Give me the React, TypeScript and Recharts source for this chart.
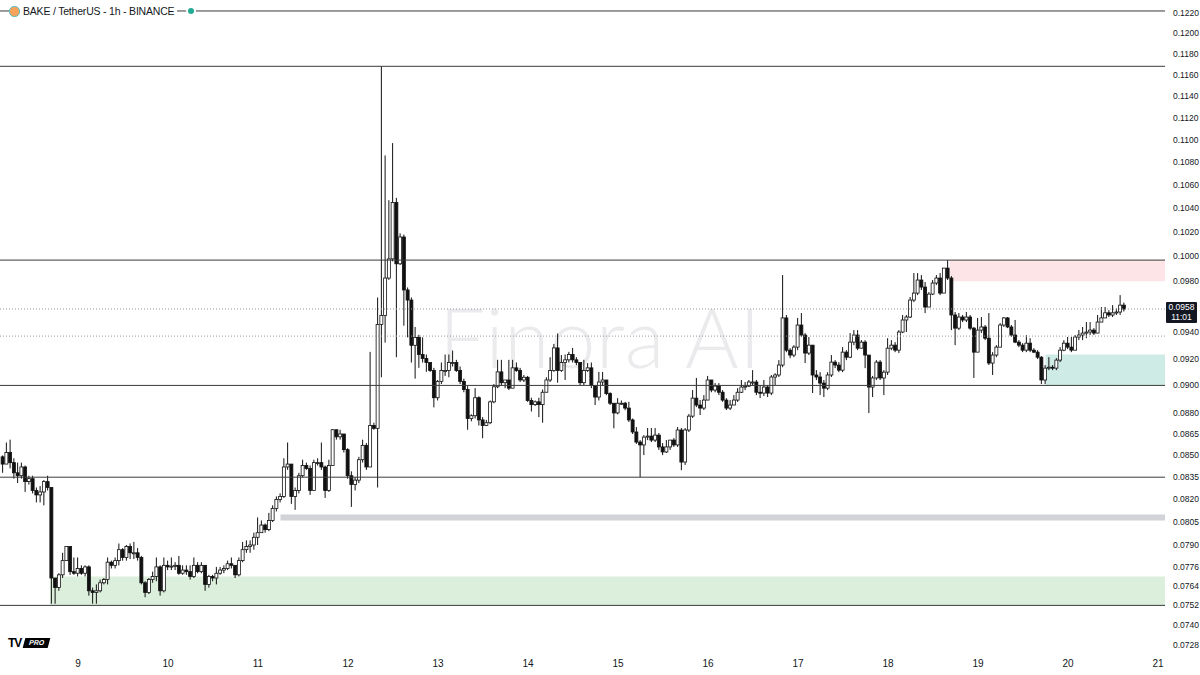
import React from "react";
import { ComposedChart, Bar, XAxis, YAxis, ReferenceLine, ReferenceArea } from "recharts";

// hourly candles, prices in 1e-4 units (e.g. 958 = 0.0958); first candle is day 8, 04:00
const firstHour = -20;
const firstOpen = 849;

const closes = [
  844, 852, 845, 838, 836, 842, 832, 834, 826, 823, 825, 832, 828, 769, 763, 771, 780, 789, 773, 772,
  775, 772, 776, 761, 760, 761, 766, 768, 779, 777, 780, 787, 782, 789, 785, 785, 782, 766, 760, 768,
  770, 776, 761, 777, 776, 776.5, 777, 772, 774, 773, 770, 777, 773, 777, 765, 770, 769, 772, 774, 775,
  778, 777, 771, 780, 787, 789, 790, 795, 798, 803, 800, 806, 814, 820, 822, 842, 844, 822, 826, 836,
  843, 841, 826, 845, 845, 842, 826, 843, 868, 863, 865, 854, 836, 830, 833, 847, 857, 842, 871, 869,
  946, 953, 982.5, 998, 1045, 994, 1016, 973, 965, 930, 936, 923, 920, 917, 911, 891, 903, 911, 911, 917,
  917, 911, 903, 897, 876, 878, 891, 875, 871, 873, 888, 899, 910, 902, 904, 898, 913, 911, 904, 906,
  889, 886, 888, 886, 895, 904, 911, 928, 911, 917, 919, 923, 919, 917, 902, 911, 913, 900, 891.5, 902.5,
  904, 894, 887, 880, 887, 887, 883.5, 875, 866.4, 859.3, 857.3, 862.8, 863.5, 860.7, 864.2, 855.9, 852.4, 855.9, 860.7, 857.3,
  867.8, 845.4, 867.8, 877.7, 890.7, 885.7, 883.5, 889.3, 904, 896.6, 899.5, 895, 889.3, 883.5, 885.7, 889.3, 895, 898.8, 899.5, 902.5,
  902.5, 895, 894.4, 898.8, 894.4, 906.2, 907.7, 915.1, 951, 926.3, 922.6, 928.6, 945.5, 937.8, 924.1, 930.1, 907.7, 906.2, 901.7, 898,
  907.7, 917.3, 915.1, 911.3, 924.8, 921, 932.4, 937.8, 927.8, 932.4, 922.6, 898.8, 905.5, 917.3, 905.5, 909.8, 927.8, 930.1, 926.3, 940.1,
  949.4, 951.7, 965, 970.5, 980.9, 975.3, 959.5, 969.7, 978.5, 982.5, 970.5, 990.5, 982.5, 953.3, 943.1, 951.7, 949.4, 951.7, 943.1, 924.8,
  941.6, 944, 935.4, 916.6, 922.6, 928.6, 945.5, 951, 944, 937.8, 932.4, 930.1, 926.3, 931.6, 926.3, 924.8, 921, 904, 912.8, 913.5,
  912.8, 918.8, 926.3, 931.6, 928.6, 926.3, 936.3, 937.8, 939.3, 940.1, 941.6, 939.3, 947.8, 951, 955, 953.3, 955, 955.6, 961, 958,
];

const highs = [
  850, 859, 861, 848, 845, 845, 843, 836, 836, 828, 829, 833, 836, 828, 769, 772, 785, 789, 789, 782,
  782, 777, 777, 777, 763, 765, 768, 769, 782, 780, 782, 791, 788, 790, 791, 792, 788, 783, 767, 769,
  773, 782, 777, 782, 780, 782, 779, 783, 777, 777, 777, 782, 779, 779, 777, 771, 771, 776, 776, 777,
  780, 782, 777, 782, 792, 793, 793, 798, 808, 806, 804, 811, 816, 822, 824, 848, 859, 843, 828, 838,
  847, 845, 843, 847, 848, 859, 843, 847, 868.5, 868, 868, 864, 855, 839, 835, 849, 861, 858.6, 925, 873,
  967, 1168, 1086, 1047, 1097, 1049, 1019, 1018, 975, 967, 944, 938, 936, 923, 917, 913, 904, 917, 923, 923,
  926, 919, 914, 905, 899.5, 879, 898, 892, 877, 875, 889, 901, 919, 919, 904, 919, 919, 917, 913, 907.7,
  907, 891, 889, 891, 897, 906, 921, 931, 939, 922.6, 923, 925, 928, 921, 917, 919, 916.6, 917, 898, 910,
  910, 904, 895, 887, 890.7, 889, 888, 888, 876, 869.9, 860.7, 864.2, 869.2, 869.2, 869.2, 865.7, 858.6, 860.7, 860.7, 862.1,
  869.9, 869.2, 869.2, 879.2, 896.6, 905.5, 889.3, 892.9, 907, 904, 901.7, 901.7, 896.6, 890.7, 889.3, 892.9, 898, 904, 902.5, 904,
  911.3, 904, 900.2, 904, 900.2, 907.7, 909, 918.8, 984.9, 953.3, 927.8, 930.1, 951, 954.8, 939.3, 936.3, 930.1, 911.3, 909.8, 904,
  909.8, 922.6, 918.8, 917.3, 928.6, 926.3, 939.3, 941.6, 941.6, 933.9, 933.9, 922.6, 907, 918.8, 918.8, 911.3, 935.4, 933.9, 932.4, 941.6,
  953.3, 953.3, 967.4, 986.5, 986.5, 984.9, 979.3, 971.3, 980.9, 984.9, 986.5, 990.5, 997, 984.1, 955.6, 954.8, 953.3, 955.6, 953.3, 944,
  951, 951.7, 945.5, 954.8, 924.8, 930.1, 947, 951.7, 951.7, 945.5, 949.4, 933.9, 931.6, 937.8, 935.4, 927.8, 926.3, 921.8, 915.1, 921,
  915.1, 920.3, 928.6, 933.9, 936.3, 936.3, 937.8, 941.6, 944, 947.8, 947.8, 943.1, 953.3, 959.5, 959.5, 957.1, 961, 958.4, 968.9, 963,
];

const lows = [
  838, 844, 841, 834, 831, 834, 825, 830, 824, 818, 818, 816, 826, 753, 753, 761, 769, 780, 771, 771,
  770, 771, 770, 758, 753, 753, 760, 765, 765, 775, 775, 777, 780, 780, 781, 781, 780, 765, 757, 759,
  766, 767, 758, 760, 774, 774, 774, 771, 771, 771, 768, 769, 772, 772, 761, 763, 767, 765, 771, 772,
  774, 775, 769, 770, 779, 785, 785, 787, 790, 798, 798, 799, 805, 812, 818, 821, 840, 817, 813, 824,
  835, 840, 823, 826, 843, 840, 821, 825, 843, 861, 861, 852, 834, 815, 826, 831, 845, 840, 842, 868,
  828, 906, 932, 981, 996, 921, 993, 945, 936, 917, 905, 913, 917, 910, 910, 884, 889, 901, 907, 906,
  914, 910, 901, 895, 868, 874, 876, 871, 862, 870.6, 872, 887, 898, 900, 898, 896.6, 901, 910, 902.5, 902.5,
  888, 881, 885, 877, 873, 895, 902.5, 910, 902, 910, 904, 917, 917, 915, 900, 900, 910, 898, 885.7, 889,
  900, 892.9, 885.7, 869, 879, 885.7, 882, 873.5, 865, 858, 835, 850.2, 860.7, 859.3, 859.3, 853.8, 850.2, 851.7, 853.8, 855.9,
  855.9, 839.8, 843.4, 866.4, 876.4, 884.2, 878.5, 882.1, 892.9, 895, 895, 892.9, 888, 882.1, 882.1, 885.7, 888, 894.4, 896.6, 898.8,
  900.2, 892.9, 890.7, 892.2, 891.5, 892.9, 900.2, 906.2, 913.5, 924.8, 920.3, 921, 926.3, 936.3, 916.6, 922.6, 894.4, 904, 892.9, 891.5,
  896.6, 906.2, 912.8, 909.8, 909.8, 918.8, 920.3, 930.1, 926.3, 927.8, 912.8, 879.9, 891.5, 904, 904, 892.9, 907.7, 926.3, 924.8, 924.1,
  939.3, 940.1, 951, 963.4, 968.9, 972.9, 954.8, 961, 968.9, 976.9, 968.9, 970.5, 980.9, 941.6, 930.1, 941.6, 947.8, 947.8, 941.6, 905.5,
  924.8, 939.3, 933.9, 915.1, 907.7, 921, 928.6, 944, 943.1, 936.3, 931.6, 928.6, 924.8, 924.8, 924.8, 924.1, 919.6, 901, 901, 911.3,
  911.3, 911.3, 917.3, 925.5, 927.1, 924.8, 926.3, 933.9, 933.9, 935.4, 937.8, 937.8, 939.3, 947.8, 951, 951.7, 951.7, 953.3, 953.3, 956,
];

// x axis: hours from day 9 00:00
const dayTicks = [0, 24, 48, 72, 96, 120, 144, 168, 192, 216, 240, 264, 288];
const dayLabels = ["9", "10", "11", "12", "13", "14", "15", "16", "17", "18", "19", "20", "21"];

const priceTicks = [
  0.122, 0.12, 0.118, 0.116, 0.114, 0.112, 0.11, 0.108, 0.106, 0.104, 0.102, 0.1, 0.098, 0.094, 0.092,
  0.09, 0.088, 0.0865, 0.085, 0.0835, 0.082, 0.0805, 0.079, 0.0776, 0.0764, 0.0752, 0.074, 0.0728,
];

const levelLines = [0.1222, 0.1168, 0.0997, 0.09, 0.0835, 0.0752];
const dottedLines = [0.0958, 0.0937];

const P = 10000;
const rows = closes.map((c, i) => {
  const open = (i === 0 ? firstOpen : closes[i - 1]) / P;
  const close = c / P;
  const high = Math.max(highs[i] / P, open, close);
  const low = Math.min(lows[i] / P, open, close);
  return { t: firstHour + i, open, close, high, low, range: [low, high] };
});

const Candle = (props: any) => {
  const { x, y, width, height, payload } = props;
  if (!payload || x == null || y == null) return null;
  const top = Math.min(y, y + height);
  const span = Math.abs(height);
  const lh = Math.log(payload.high);
  const ll = Math.log(payload.low);
  const toY = (v: number) => (lh === ll ? top : top + ((lh - Math.log(v)) / (lh - ll)) * span);
  const cx = x + width / 2;
  const yo = toY(payload.open);
  const yc = toY(payload.close);
  const up = payload.close >= payload.open;
  const bt = Math.min(yo, yc);
  const bh = Math.max(Math.abs(yc - yo), 1);
  return (
    <g>
      <line x1={cx} x2={cx} y1={top} y2={top + span} stroke="#111" strokeWidth={1} />
      <rect x={cx - 1.5} y={bt} width={3} height={bh} fill={up ? "#fff" : "#111"} stroke="#111" strokeWidth={0.8} />
    </g>
  );
};

const font = "'Liberation Sans', Arial, sans-serif";

export default function App() {
  return (
    <div style={{ position: "absolute", left: 0, top: 0, width: 1200, height: 675, background: "#fff", overflow: "hidden", fontFamily: font }}>
      <div style={{ position: "absolute", left: 0, top: 287, width: 1200, textAlign: "center", fontFamily: "Lato, 'Open Sans', sans-serif", fontWeight: 300, fontSize: 82, color: "#ebebed", letterSpacing: 0.5 }}>
        Finora AI
      </div>
      <div style={{ position: "absolute", left: 0, top: 0 }}>
        <ComposedChart width={1200} height={675} data={rows} margin={{ top: 0, right: 0, bottom: 0, left: 0 }}>
          <XAxis
            dataKey="t"
            type="number"
            domain={[-20.8, 289.87]}
            ticks={dayTicks}
            tickFormatter={(v: number) => dayLabels[dayTicks.indexOf(v)] ?? ""}
            axisLine={false}
            tickLine={false}
            height={23}
            tick={{ fontSize: 10, fill: "#131722", fontFamily: font }}
            allowDataOverflow
          />
          <YAxis
            orientation="right"
            type="number"
            scale="log"
            domain={[0.07239, 0.1233]}
            ticks={priceTicks}
            tickFormatter={(v: number) => v.toFixed(4)}
            axisLine={false}
            tickLine={false}
            width={35}
            interval={0}
            tick={{ fontSize: 8.5, fill: "#131722", fontFamily: font }}
            allowDataOverflow
          />
          <ReferenceArea x1={-7.5} x2={289.87} y1={0.0752} y2={0.077} fill="#4caf50" fillOpacity={0.2} stroke="none" />
          <ReferenceArea x1={54} x2={289.87} y1={0.0806} y2={0.081} fill="#b2b5be" fillOpacity={0.6} stroke="none" />
          <ReferenceArea x1={232.5} x2={289.87} y1={0.098} y2={0.0997} fill="#f23645" fillOpacity={0.13} stroke="none" />
          <ReferenceArea x1={258} x2={289.87} y1={0.09} y2={0.0923} fill="#089981" fillOpacity={0.2} stroke="none" />
          {levelLines.map((v) => (
            <ReferenceLine key={v} y={v} stroke="#3a3a3a" strokeWidth={1} />
          ))}
          {dottedLines.map((v) => (
            <ReferenceLine key={v} y={v} stroke="#9598a1" strokeWidth={1} strokeDasharray="1 2" />
          ))}
          <Bar dataKey="range" barSize={3} shape={Candle} isAnimationActive={false} />
        </ComposedChart>
      </div>
      <div style={{ position: "absolute", left: 9, top: 3, display: "flex", alignItems: "center", fontSize: 10.5, color: "#131722", lineHeight: "16px" }}>
        <span style={{ width: 9, height: 9, borderRadius: 5, background: "#f7a35c", border: "1px solid #5bc0c4" }} />
        <span style={{ background: "#fff", padding: "0 3px", letterSpacing: -0.2, whiteSpace: "pre" }}>BAKE / TetherUS - 1h - BINANCE</span>
        <span style={{ width: 11 }} />
        <span style={{ width: 6, height: 6, borderRadius: 3, background: "#22ab94", boxShadow: "0 0 0 2px #fff" }} />
      </div>
      <div style={{ position: "absolute", left: 1166, top: 302, width: 31, height: 21, background: "#131722", color: "#fff", fontSize: 8.5, lineHeight: "10px", textAlign: "center", borderRadius: 1 }}>
        <div>0.0958</div>
        <div>11:01</div>
      </div>
      <div style={{ position: "absolute", left: 8, top: 637, display: "flex", alignItems: "center" }}>
        <span style={{ fontSize: 12, fontWeight: 900, color: "#000", letterSpacing: -1, fontFamily: font, lineHeight: "12px" }}>TV</span>
        <span style={{ marginLeft: 3, background: "#000", color: "#fff", fontSize: 7, fontWeight: 700, padding: "1px 5px", transform: "skewX(-15deg)", lineHeight: "8px" }}>PRO</span>
      </div>
    </div>
  );
}
